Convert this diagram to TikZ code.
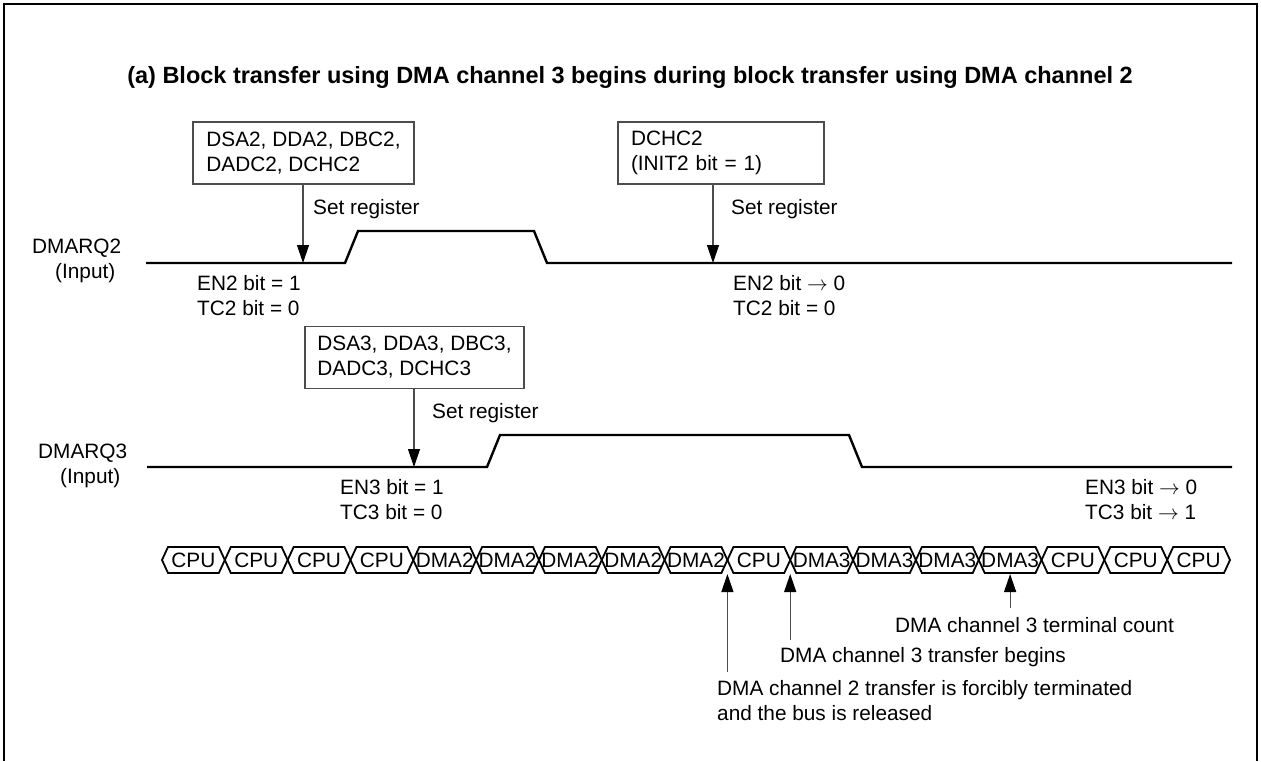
\documentclass[tikz,border=0pt]{standalone}
\usepackage{fontspec}
\setmainfont{Liberation Sans}
\usetikzlibrary{arrows.meta}
\tikzset{
  lbl/.style={font=\fontsize{20.8}{25}\selectfont, inner sep=0pt, align=left},
  regbox/.style={draw=black!70, line width=1.2pt, font=\fontsize{20.8}{25}\selectfont,
     inner xsep=0pt, inner ysep=0pt, minimum height=62pt, align=left},
  sig/.style={line width=2.4pt, line join=miter},
  bus/.style={line width=1.8pt, line join=miter},
  arr/.style={draw=black!70, line width=1.2pt, -{Triangle[length=18pt,width=12pt,color=black]}},
  frame/.style={line width=1.6pt}
}
\begin{document}
\begin{tikzpicture}[x=1pt,y=-1pt]
\useasboundingbox (0,0) rectangle (1261,761);
% open frame
\draw[frame] (4,761) -- (4,4) -- (1257,4) -- (1257,761);
% title
\node[font=\bfseries\fontsize{23.5}{28}\selectfont, inner sep=0pt] (title) at (630,77)
  {(a) Block transfer using DMA channel 3 begins during block transfer using DMA channel 2};

% signal labels
\node[lbl, anchor=west] (lq2) at (32,260.5) {DMARQ2\\\hspace*{23pt}(Input)};
\node[lbl, anchor=west] (lq3) at (38,465.5) {DMARQ3\\\hspace*{22pt}(Input)};

% DMARQ2 waveform
\draw[sig] (146,263) -- (345,263) -- (358,231) -- (534,231) -- (547,263) -- (1232,263);
% DMARQ3 waveform
\draw[sig] (147,467) -- (487,467) -- (500,435) -- (849,435) -- (862,467) -- (1232,467);

% register boxes
\node[regbox, minimum width=221pt] (box1) at (303.5,153) {DSA2, DDA2, DBC2,\\DADC2, DCHC2};
\node[regbox, inner xsep=13pt, text width=180pt] (box2) at (721,153) {DCHC2\\(INIT2 bit = 1)};
\node[regbox, minimum width=219pt] (box3) at (414.5,357.5) {DSA3, DDA3, DBC3,\\DADC3, DCHC3};

\coordinate (p1) at (303,263);
\coordinate (p2) at (713,263);
\coordinate (p3) at (414,467);
\draw[arr] (box1.south -| p1) -- (p1);
\draw[arr] (box2.south -| p2) -- (p2);
\draw[arr] (box3.south -| p3) -- (p3);

\node[lbl, anchor=west] (sr1) at (313,209) {Set register};
\node[lbl, anchor=west] (sr2) at (731,209) {Set register};
\node[lbl, anchor=west] (sr3) at (432,413) {Set register};

\node[lbl, anchor=west] (st1) at (197,295.5) {EN2 bit = 1\\TC2 bit = 0};
\node[lbl, anchor=west] (st2) at (733,295.5) {EN2 bit $\rightarrow$ 0\\TC2 bit = 0};
\node[lbl, anchor=west] (st3) at (340,499.5) {EN3 bit = 1\\TC3 bit = 0};
\node[lbl, anchor=west] (st4) at (1085,499.5) {EN3 bit $\rightarrow$ 0\\TC3 bit $\rightarrow$ 1};

% bus cycles
\foreach \lab [count=\k from 0] in {CPU,CPU,CPU,CPU,DMA2,DMA2,DMA2,DMA2,DMA2,CPU,DMA3,DMA3,DMA3,DMA3,CPU,CPU,CPU} {
  \pgfmathsetmacro\xl{162+\k*62.8235}
  \pgfmathsetmacro\xr{\xl+62.8235}
  \draw[bus] (\xl,560) -- (\xl+6,547) -- (\xr-6,547) -- (\xr,560) -- (\xr-6,573) -- (\xl+6,573) -- cycle;
  \node[lbl] (c\k) at ({(\xl+\xr)/2},560) {\lab};
}

% annotations
\coordinate (t1) at (727.4,574);
\coordinate (t2) at (790.2,574);
\coordinate (t3) at (1010.1,574);
\coordinate (b1) at (727.4,672);
\coordinate (b2) at (790.2,640);
\coordinate (b3) at (1010.1,608);
\draw[arr] (b1) -- (t1);
\draw[arr] (b2) -- (t2);
\draw[arr] (b3) -- (t3);
\node[lbl, anchor=west] (a3) at (895,625) {DMA channel 3 terminal count};
\node[lbl, anchor=west] (a2) at (780,657) {DMA channel 3 transfer begins};
\node[lbl, anchor=west] (a1) at (717,701) {DMA channel 2 transfer is forcibly terminated\\and the bus is released};
\end{tikzpicture}
\end{document}
